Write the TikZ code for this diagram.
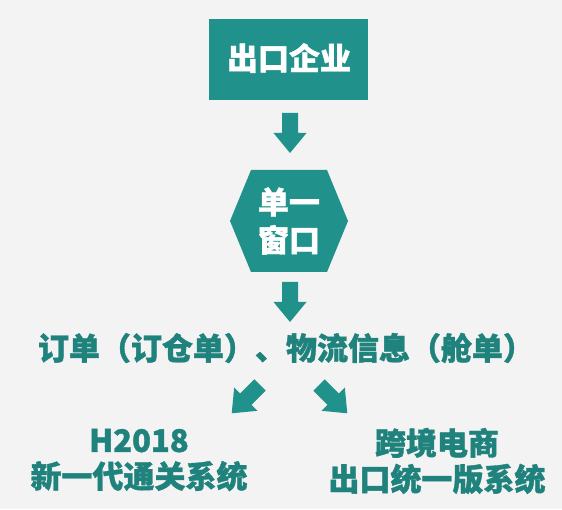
\documentclass[tikz,border=0pt]{standalone}
\usepackage{fontspec}
\setmainfont{Noto Sans CJK SC}[BoldFeatures={FakeBold=1.2}]
\usetikzlibrary{calc}
\definecolor{tealbox}{HTML}{21918B}
\definecolor{tealtext}{HTML}{1F827C}
\definecolor{bggray}{HTML}{F3F3F3}
\begin{document}
\begin{tikzpicture}[x=1pt,y=1pt,
  boxtext/.style={text=white,font=\bfseries\fontsize{31}{38}\selectfont,align=center,inner sep=0pt},
  plaintext/.style={text=tealtext,font=\bfseries\fontsize{31}{36}\selectfont,align=center,inner sep=0pt},
  blockarrow/.pic={\fill[tealbox] (-8,0) -- (8,0) -- (8,-20) -- (16.5,-20) -- (0,-40) -- (-16.5,-20) -- (-8,-20) -- cycle;}]
\fill[bggray] (0,0) rectangle (562,509);
\useasboundingbox (0,0) rectangle (562,509);
% top box
\node[fill=tealbox,minimum width=159pt,minimum height=81pt,inner sep=0pt] (firm) at (288.5,449.5) {};
\node[boxtext] (firmtext) at (289,451) {出口企业};
% arrow 1
\coordinate (a1) at (290,396);
\pic at (a1) {blockarrow};
% hexagon
\coordinate (hexc) at (289,288);
\fill[tealbox] ($(hexc)+(-59,0)$) -- ($(hexc)+(-38,51)$) -- ($(hexc)+(38,51)$) -- ($(hexc)+(59,0)$) -- ($(hexc)+(38,-51)$) -- ($(hexc)+(-38,-51)$) -- cycle;
\node[boxtext] (hex) at (hexc) {单一\\窗口};
% arrow 2
\coordinate (a2) at (290,227);
\pic at (a2) {blockarrow};
% middle text
\node[plaintext] (info) at (286,161) {订单（订仓单）、物流信息（舱单）};
% diagonal arrows
\coordinate (a3) at (260,124);
\pic[rotate=-45] at (a3) {blockarrow};
\coordinate (a4) at (319,124);
\pic[rotate=45] at (a4) {blockarrow};
% bottom texts
\node[plaintext] (h2018) at (139,49) {H2018\\新一代通关系统};
\node[plaintext] (cbec) at (437,48) {跨境电商\\出口统一版系统};
\end{tikzpicture}
\end{document}
